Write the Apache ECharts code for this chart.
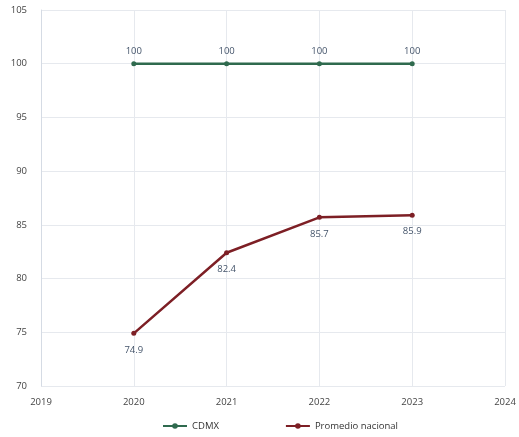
<!DOCTYPE html>
<html><head><meta charset="utf-8">
<script src="https://cdn.jsdelivr.net/npm/echarts@6/dist/echarts.min.js"></script>
<style>html,body{margin:0;padding:0;background:#fff}#c{width:519px;height:437px}</style>
</head><body><div id="c"></div>
<script>
const years = [2020, 2021, 2022, 2023];
const cdmx = [100, 100, 100, 100];
const promedio = [74.9, 82.4, 85.7, 85.9];
const seriesNames = ['CDMX', 'Promedio nacional'];

const chart = echarts.init(document.getElementById('c'));
const lblColor = '#44546a';
chart.setOption({
  animation: false,
  textStyle: { fontFamily: 'Open Sans, sans-serif' },
  grid: { left: 41, right: 14, top: 10, bottom: 51, containLabel: false },
  legend: {
    left: 157, bottom: 1, itemGap: 66, itemWidth: 24, itemHeight: 7,
    textStyle: { color: '#333', fontSize: 9.5 },
    data: seriesNames
  },
  xAxis: {
    type: 'value', min: 2019, max: 2024, interval: 1,
    axisLine: { show: false }, axisTick: { show: false },
    axisLabel: { color: '#444', fontSize: 9.5, margin: 11, formatter: v => String(v) },
    splitLine: { show: true, lineStyle: { color: '#e6e9ee' } }
  },
  yAxis: {
    type: 'value', min: 70, max: 105, interval: 5,
    axisLine: { show: true, lineStyle: { color: '#d5dbe4' } }, axisTick: { show: false },
    axisLabel: { color: '#444', fontSize: 9.5, margin: 14 },
    splitLine: { show: true, lineStyle: { color: '#e6e9ee' } }
  },
  series: [
    {
      name: seriesNames[0], type: 'line',
      data: years.map((y, i) => [y, cdmx[i]]),
      color: '#2f6a4e', symbol: 'circle', symbolSize: 5,
      lineStyle: { width: 2.5, color: '#2f6a4e' },
      label: { show: true, position: 'top', distance: 5, color: lblColor, fontSize: 9.5 }
    },
    {
      name: seriesNames[1], type: 'line',
      data: years.map((y, i) => [y, promedio[i]]),
      color: '#7d1f25', symbol: 'circle', symbolSize: 5,
      lineStyle: { width: 2.5, color: '#7d1f25' },
      label: { show: true, position: 'bottom', distance: 9, color: lblColor, fontSize: 9.5 }
    }
  ]
});
</script></body></html>
